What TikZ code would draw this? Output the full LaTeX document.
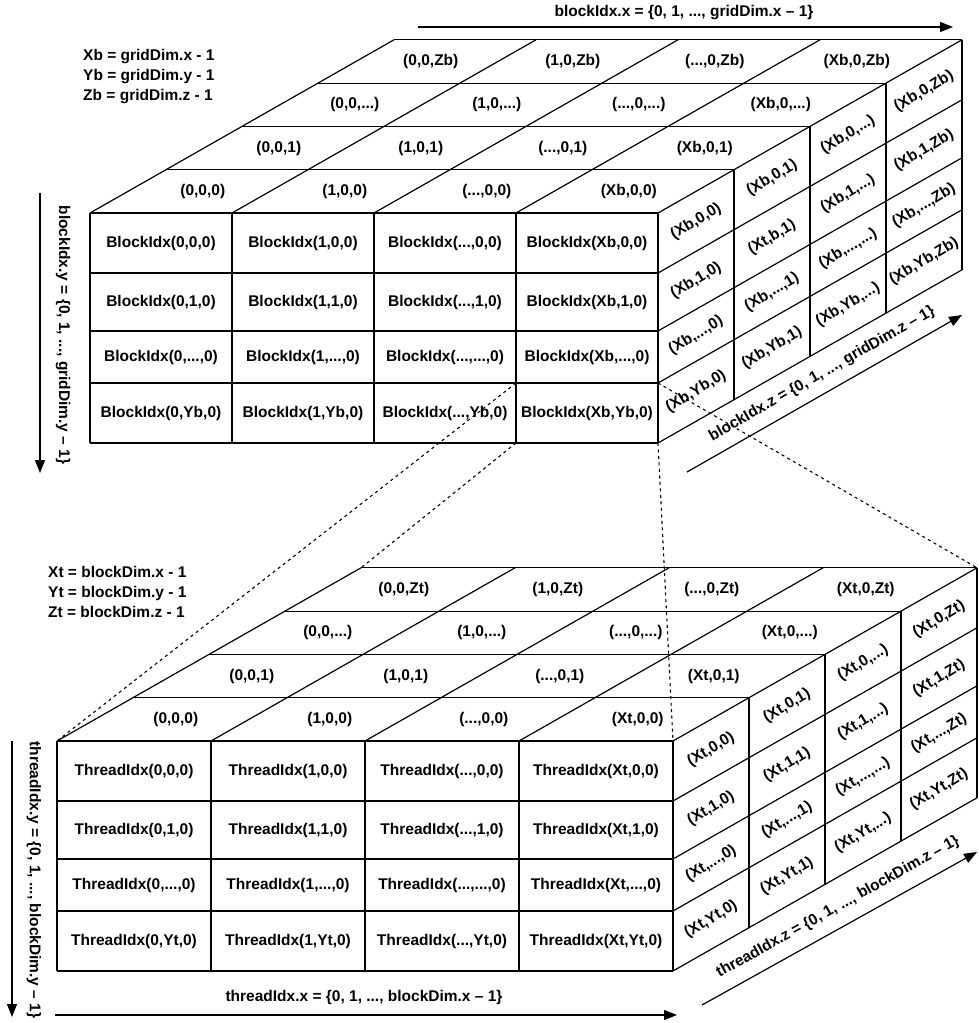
\documentclass[tikz,border=0pt]{standalone}
\usepackage{fontspec}
\setmainfont{Liberation Sans}
\usetikzlibrary{arrows.meta}

\newcommand{\dts}{...}
\def\dpx{76}
\def\dpy{-43.3}
% #1 name, #2 front top-left corner, #3 column width, #4 cell prefix,
% #5/#6/#7 last x/y/z index, #8 text of side cell (1,1)
\newcommand{\gridbox}[8]{%
  \begin{scope}[shift={#2}]
    \def\colw{#3}
    % front face
    \foreach \i in {0,...,4} \draw[gline] (\i*\colw,0) -- (\i*\colw,230);
    \foreach \r in {0,60,118,170,230} \draw[gline] (0,\r) -- (4*\colw,\r);
    % top face
    \foreach \k in {1,...,4} \draw[gline] (\k*\dpx,\k*\dpy) -- ++(4*\colw,0);
    \foreach \i in {0,...,4} \draw[gline] (\i*\colw,0) -- ++(4*\dpx,4*\dpy);
    % right face
    \foreach \k in {1,...,4} \draw[gline] (4*\colw+\k*\dpx,\k*\dpy) -- ++(0,230);
    \foreach \r in {60,118,170,230} \draw[gline] (4*\colw,\r) -- ++(4*\dpx,4*\dpy);
    \coordinate (#1-ftl) at (0,0);
    \coordinate (#1-ftr) at (4*\colw,0);
    \coordinate (#1-fbr) at (4*\colw,230);
    \coordinate (#1-btl) at (4*\dpx,4*\dpy);
    \coordinate (#1-btr) at (4*\colw+4*\dpx,4*\dpy);
    \coordinate (#1-ctl) at (3*\colw,170);
    \coordinate (#1-cbl) at (3*\colw,230);
    \coordinate (#1-ctr) at (4*\colw,170);
    % labels
    \foreach \x/\i in {0/0,1/1,\dts/2,#5/3}{
      \foreach \y/\m in {0/30,1/89,\dts/144,#6/200}
        \node[cell] (#1-f\i-\m) at ({(\i+0.5)*\colw},\m) {#4(\x,\y,0)};
      \foreach \z/\k in {0/0,1/1,\dts/2,#7/3}
        \node[cell] (#1-t\i-\k) at ({(\i+0.5)*\colw+(\k+0.55)*\dpx},{(\k+0.5)*\dpy}) {(\x,0,\z)};
    }
    \foreach \z/\k in {0/0,1/1,\dts/2,#7/3}
      \foreach \y/\j/\m in {0/0/30,1/1/89,\dts/2/144,#6/3/200}
        \node[sidelab] (#1-r\k-\j) at ({4*\colw+(\k+0.5)*\dpx},{\m+(\k+0.5)*\dpy})
          {\ifnum\k\j=11 #8\else(#5,\y,\z)\fi};
  \end{scope}}

\begin{document}
\begin{tikzpicture}[x=1pt, y=-1pt,
    every node/.style={font=\fontsize{15.5}{20}\selectfont\bfseries, inner sep=0pt},
    gline/.style={line width=1.2pt},
    cell/.style={},
    sidelab/.style={rotate=31},
    idxarrow/.style={line width=1.2pt, -{Triangle[length=13pt,width=10pt]}},
    zoomline/.style={line width=1.1pt, dash pattern=on 3pt off 3.5pt}]
  \useasboundingbox (0,0) rectangle (978,1023);

  % grid of blocks
  \gridbox{top}{(90,213)}{142}{BlockIdx}{Xb}{Yb}{Zb}{(Xt,b,1)}
  \node[align=left, anchor=west] (gdim) at (83,77)
    {Xb = gridDim.x - 1\\Yb = gridDim.y - 1\\Zb = gridDim.z - 1};

  % block of threads
  \gridbox{bot}{(57,741)}{154}{ThreadIdx}{Xt}{Yt}{Zt}{(Xt,1,1)}
  \node[align=left, anchor=west] (bdim) at (48,592)
    {Xt = blockDim.x - 1\\Yt = blockDim.y - 1\\Zt = blockDim.z - 1};

  % index directions
  \coordinate (bx0) at (418,27);  \coordinate (bx1) at (953,27);
  \coordinate (by0) at (40,193);  \coordinate (by1) at (40,473);
  \coordinate (bz0) at (687,472); \coordinate (bz1) at (962,315);
  \coordinate (tx0) at (55,1015); \coordinate (tx1) at (677,1015);
  \coordinate (ty0) at (12,741);  \coordinate (ty1) at (12,1017);
  \coordinate (tz0) at (702,1005); \coordinate (tz1) at (977,852);
  \draw[idxarrow] (bx0) -- (bx1);
  \draw[idxarrow] (by0) -- (by1);
  \draw[idxarrow] (bz0) -- (bz1);
  \draw[idxarrow] (tx0) -- (tx1);
  \draw[idxarrow] (ty0) -- (ty1);
  \draw[idxarrow] (tz0) -- (tz1);
  \node (bxl) at (684,13) {blockIdx.x = \{0, 1, ..., gridDim.x – 1\}};
  \node[rotate=-90] (byl) at (63,335) {blockIdx.y = \{0, 1, ..., gridDim.y – 1\}};
  \node[rotate=29.7] (bzl) at (822,374) {blockIdx.z = \{0, 1, ..., gridDim.z – 1\}};
  \node (txl) at (364,997) {threadIdx.x = \{0, 1, ..., blockDim.x – 1\}};
  \node[rotate=-90] (tyl) at (34,880) {threadIdx.y = \{0, 1, ..., blockDim.y – 1\}};
  \node[rotate=29.1] (tzl) at (838,907) {threadIdx.z = \{0, 1, ..., blockDim.z – 1\}};

  % one block blown up
  \draw[zoomline] (top-ctl) -- (bot-ftl);
  \draw[zoomline] (top-cbl) -- (bot-btl);
  \draw[zoomline] (top-fbr) -- (bot-ftr);
  \draw[zoomline] (top-ctr) -- (bot-btr);
\end{tikzpicture}
\end{document}
